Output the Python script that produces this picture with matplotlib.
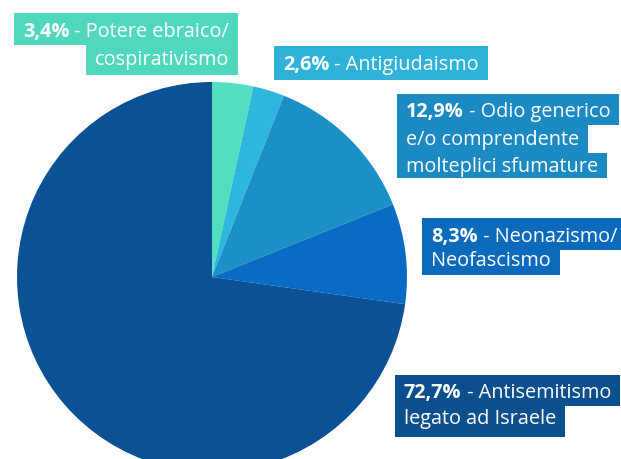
import matplotlib
matplotlib.use("Agg")
import matplotlib.pyplot as plt
from matplotlib.patches import Rectangle

# quote di ciascuna categoria (%)
shares = [3.4, 2.6, 12.9, 8.3, 72.7]
pct_labels = ["3,4%", "2,6%", "12,9%", "8,3%", "72,7%"]
descriptions = [
    ["Potere ebraico/", "cospirativismo"],
    ["Antigiudaismo"],
    ["Odio generico", "e/o comprendente", "molteplici sfumature"],
    ["Neonazismo/", "Neofascismo"],
    ["Antisemitismo", "legato ad Israele"],
]
slice_colors = ["#52dfc1", "#2db7dc", "#1b8fc7", "#0a6bc4", "#0b5195"]
box_colors = ["#4fd8bd", "#2fb2d8", "#1b89c2", "#0c6abd", "#0b4f8f"]

# posizione delle etichette in pixel (x del testo, baseline di ogni riga, top/bottom del box)
label_pos = [
    dict(x=229, align="right", baselines=[37, 65], top=13, bottom=75),
    dict(x=283, align="left", baselines=[70], top=46, bottom=80),
    dict(x=406, align="left", baselines=[117, 145, 172], top=94, bottom=178),
    dict(x=431, align="left", baselines=[242, 266], top=218, bottom=275),
    dict(x=404, align="left", baselines=[398, 424], top=375, bottom=437),
]

W, H = 621, 459
plt.rcParams['font.family'] = ['Open Sans', 'DejaVu Sans']
FS = 14.3

fig = plt.figure(figsize=(W / 100, H / 100), dpi=100)
ax = fig.add_axes([0, 0, 1, 1])

# y invertito: partenza in alto, senso orario visivo
ax.pie(shares, colors=slice_colors, startangle=-90, counterclock=True,
       center=(212, 277), radius=195, frame=True,
       wedgeprops=dict(linewidth=0))
ax.set_xlim(0, W)
ax.set_ylim(H, 0)  # coordinate in pixel, y verso il basso
ax.set_aspect("equal")
ax.axis("off")

# testi: riga con percentuale in grassetto + descrizione
line_texts = []  # (label index, line index, [artists])
for i, (pct, desc, pos) in enumerate(zip(pct_labels, descriptions, label_pos)):
    for j, line in enumerate(desc):
        y = pos["baselines"][j]
        if pos["align"] == "left":
            if j == 0:
                t1 = ax.text(pos["x"], y, pct, color="white", fontsize=FS,
                             fontweight="bold", ha="left", va="baseline", zorder=5)
                t2 = ax.annotate(" - " + line, xy=(1, 0), xycoords=t1, color="white",
                                 fontsize=FS, ha="left", va="bottom", zorder=5)
                arts = [t1, t2]
            else:
                arts = [ax.text(pos["x"], y, line, color="white", fontsize=FS,
                                ha="left", va="baseline", zorder=5)]
        else:
            if j == 0:
                t2 = ax.text(pos["x"], y, " - " + line, color="white", fontsize=FS,
                             ha="right", va="baseline", zorder=5)
                t1 = ax.annotate(pct, xy=(0, 0), xycoords=t2, color="white",
                                 fontsize=FS, fontweight="bold", ha="right",
                                 va="bottom", zorder=5)
                arts = [t1, t2]
            else:
                arts = [ax.text(pos["x"], y, line, color="white", fontsize=FS,
                                ha="right", va="baseline", zorder=5)]
        line_texts.append((i, j, arts))

fig.canvas.draw()
renderer = fig.canvas.get_renderer()
inv = ax.transData.inverted()
padx = 9
for i, j, arts in line_texts:
    pos = label_pos[i]
    n = len(pos["baselines"])
    x0s, x1s = [], []
    for a in arts:
        bb = a.get_window_extent(renderer)
        (xa, _), (xb, _) = inv.transform([(bb.x0, bb.y0), (bb.x1, bb.y1)])
        x0s.append(xa)
        x1s.append(xb)
    left, right = min(x0s) - padx, max(x1s) + padx
    top = pos["top"] if j == 0 else pos["baselines"][j - 1] + 8
    bottom = pos["bottom"] if j == n - 1 else pos["baselines"][j] + 8
    ax.add_patch(Rectangle((left, top), right - left, bottom - top,
                           facecolor=box_colors[i], edgecolor="none", zorder=4))

fig.savefig("out.png", dpi=100, facecolor="white")
